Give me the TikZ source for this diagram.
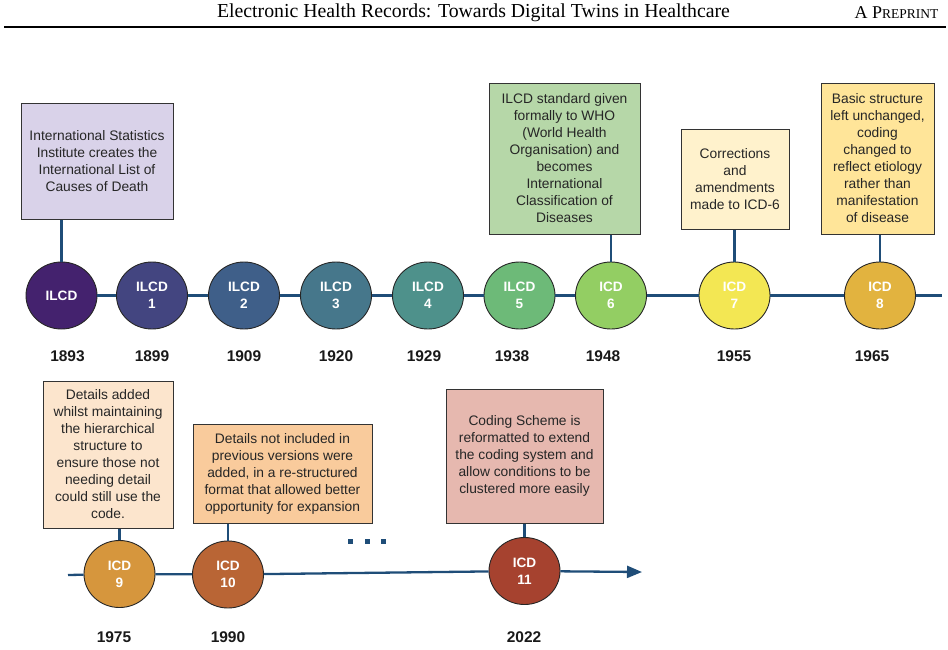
\documentclass[tikz,border=0pt]{standalone}
\usepackage{fontspec}
\setmainfont{Liberation Sans}
\newfontfamily\hdrfont{Liberation Serif}
\usetikzlibrary{shapes.geometric,arrows.meta}
\definecolor{tline}{HTML}{1F4D78}
\definecolor{boxtext}{HTML}{262626}
\definecolor{cA}{HTML}{44226E}
\definecolor{cB}{HTML}{434580}
\definecolor{cC}{HTML}{3F5F89}
\definecolor{cD}{HTML}{46778B}
\definecolor{cE}{HTML}{4E918B}
\definecolor{cF}{HTML}{6DBA78}
\definecolor{cG}{HTML}{93CE63}
\definecolor{cH}{HTML}{F3E753}
\definecolor{cI}{HTML}{E2B33F}
\definecolor{cJ}{HTML}{D6963D}
\definecolor{cK}{HTML}{B96535}
\definecolor{cL}{HTML}{A6422F}
\definecolor{bA}{HTML}{D9D2E9}
\definecolor{bB}{HTML}{B6D7A8}
\definecolor{bC}{HTML}{FFF2CC}
\definecolor{bD}{HTML}{FFE599}
\definecolor{bE}{HTML}{FCE5CD}
\definecolor{bF}{HTML}{F9CB9C}
\definecolor{bG}{HTML}{E6B8AF}
\tikzset{
  ver/.style={ellipse, draw=black!85, line width=0.9pt, minimum width=71pt, minimum height=67pt, inner sep=0pt,
    text=white, align=center, font=\fontsize{13.6}{17}\selectfont\bfseries},
  evbox/.style={draw=black!80, line width=1pt, inner sep=0pt, align=center, text=boxtext,
    font=\fontsize{13.8}{17}\selectfont},
  yearlbl/.style={font=\fontsize{15.5}{18}\selectfont\bfseries, text=black!90},
  tl/.style={draw=tline, line width=2.3pt},
}
\begin{document}
\begin{tikzpicture}[x=1pt,y=-1pt]
\useasboundingbox (0,0) rectangle (948,649);
% header
\node[font=\hdrfont\fontsize{19.8}{22}\selectfont] (title) at (473.5,13) {Electronic Health Records: Towards Digital Twins in Healthcare};
\node[font=\hdrfont\fontsize{18}{22}\selectfont, anchor=east] (prep) at (942,13) {A P{\fontsize{13.5}{16}\selectfont REPRINT}};
\coordinate (rl) at (4,27);
\coordinate (rr) at (946,27);
\draw[line width=1.3pt] (rl) -- (rr);

% row 1 circles
\node[ver, fill=cA] (c1) at (61.5,295.5) {ILCD};
\node[ver, fill=cB] (c2) at (152,295.5) {ILCD\\1};
\node[ver, fill=cC] (c3) at (244,295.5) {ILCD\\2};
\node[ver, fill=cD] (c4) at (336,295.5) {ILCD\\3};
\node[ver, fill=cE] (c5) at (428,295.5) {ILCD\\4};
\node[ver, fill=cF] (c6) at (519.5,295.5) {ILCD\\5};
\node[ver, fill=cG] (c7) at (611,295.5) {ICD\\6};
\node[ver, fill=cH] (c8) at (734.5,295.5) {ICD\\7};
\node[ver, fill=cI] (c9) at (880,295.5) {ICD\\8};
\coordinate (e1) at (942,295.5);

\draw[tl] (c1) -- (c2);
\draw[tl] (c2) -- (c3);
\draw[tl] (c3) -- (c4);
\draw[tl] (c4) -- (c5);
\draw[tl] (c5) -- (c6);
\draw[tl] (c6) -- (c7);
\draw[tl] (c7) -- (c8);
\draw[tl] (c8) -- (c9);
\draw[tl] (c9) -- (e1);

% row 1 years
\node[yearlbl] (y1) at (67.5,356) {1893};
\node[yearlbl] (y2) at (152,356) {1899};
\node[yearlbl] (y3) at (244,356) {1909};
\node[yearlbl] (y4) at (336,356) {1920};
\node[yearlbl] (y5) at (424,356) {1929};
\node[yearlbl] (y6) at (512,356) {1938};
\node[yearlbl] (y7) at (603,356) {1948};
\node[yearlbl] (y8) at (734,356) {1955};
\node[yearlbl] (y9) at (872,356) {1965};

% row 1 boxes
\node[evbox, fill=bA, minimum width=152pt, minimum height=116pt] (b1) at (97,161)
  {International Statistics\\Institute creates the\\International List of\\Causes of Death};
\node[evbox, fill=bB, minimum width=151pt, minimum height=151pt] (b2) at (564.5,158.5)
  {ILCD standard given\\formally to WHO\\(World Health\\Organisation) and\\becomes\\International\\Classification of\\Diseases};
\node[evbox, fill=bC, minimum width=108pt, minimum height=100pt] (b3) at (735,179)
  {Corrections\\and\\amendments\\made to ICD-6};
\node[evbox, fill=bD, minimum width=113pt, minimum height=151pt] (b4) at (877.5,158.5)
  {Basic structure\\left unchanged,\\coding\\changed to\\reflect etiology\\rather than\\manifestation\\of disease};

\draw[tl] (c1) -- (c1 |- b1.south);
\draw[tl] (c7) -- (c7 |- b2.south);
\draw[tl] (c8) -- (c8 |- b3.south);
\draw[tl] (c9) -- (c9 |- b4.south);

% row 2
\coordinate (s2) at (68,575);
\node[ver, fill=cJ] (c10) at (119.5,574) {ICD\\9};
\node[ver, fill=cK] (c11) at (228,574.5) {ICD\\10};
\node[ver, fill=cL] (c12) at (524.5,571) {ICD\\11};
\coordinate (e2) at (642,572);

\draw[tl] (s2) -- (c10);
\draw[tl] (c10) -- (c11);
\draw[tl] (c11) -- (c12);
\draw[tl, -{Triangle[length=15pt,width=12pt]}] (c12) -- (e2);

\node[yearlbl] (y10) at (114,637) {1975};
\node[yearlbl] (y11) at (228,637) {1990};
\node[yearlbl] (y12) at (524,637) {2022};

\node[evbox, fill=bE, minimum width=130pt, minimum height=147pt] (b5) at (108,454.5)
  {Details added\\whilst maintaining\\the hierarchical\\structure to\\ensure those not\\needing detail\\could still use the\\code.};
\node[evbox, fill=bF, minimum width=179pt, minimum height=99pt] (b6) at (282.5,473.5)
  {Details not included in\\previous versions were\\added, in a re-structured\\format that allowed better\\opportunity for expansion};
\node[evbox, fill=bG, minimum width=157pt, minimum height=134pt] (b7) at (524.5,456)
  {Coding Scheme is\\reformatted to extend\\the coding system and\\allow conditions to be\\clustered more easily};

\draw[tl] (c10) -- (c10 |- b5.south);
\draw[tl] (c11) -- (c11 |- b6.south);
\draw[tl] (c12) -- (c12 |- b7.south);

% ellipsis dots
\fill[tline] (347.5,538.5) rectangle ++(5,5);
\fill[tline] (364.5,538.5) rectangle ++(5,5);
\fill[tline] (380.5,538.5) rectangle ++(5,5);
\end{tikzpicture}
\end{document}
